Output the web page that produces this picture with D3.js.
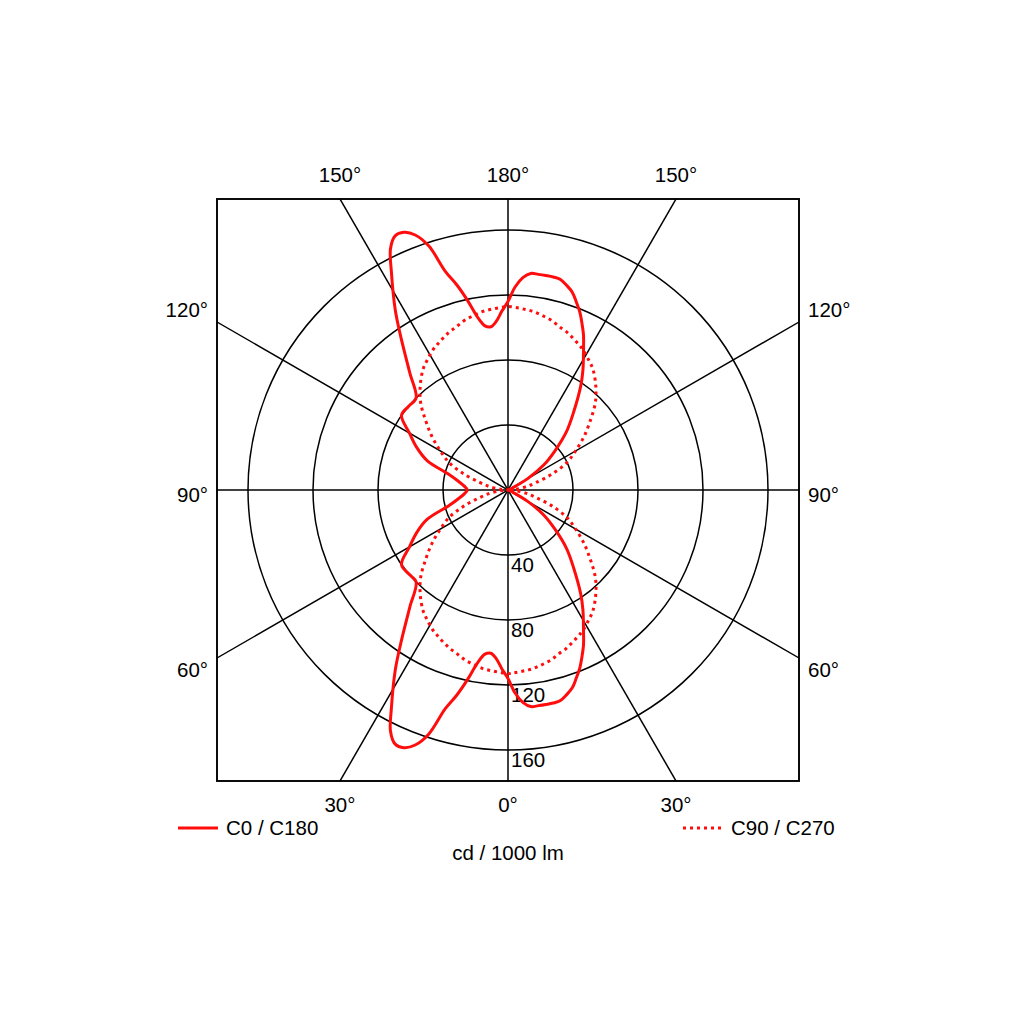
<!DOCTYPE html>
<html>
<head>
<meta charset="utf-8">
<script src="https://cdn.jsdelivr.net/npm/d3@7"></script>
<style>
  html, body { margin: 0; padding: 0; background: #fff; }
  svg { display: block; }
  text { font-family: "Liberation Sans", Arial, sans-serif; fill: #000; }
</style>
</head>
<body>
<svg id="chart" width="1024" height="1024"></svg>
<script>
// ---- Data (gamma angles in degrees, 0 = downward, 180 = upward) ----
const gammaAngles = [0, 2, 4, 6, 8, 10, 12, 14, 16, 18, 20, 22, 24, 26, 28, 32, 35, 40, 45, 50, 55, 60, 65, 70, 75, 80, 85, 90,
  95, 100, 105, 110, 115, 120, 125, 130, 135, 140, 145, 148, 152, 154, 156, 158, 160, 162, 164, 166, 168, 170, 172, 174, 176, 178, 180];

// C0 plane (right half), cd/1000 lm
const c0Values = [116, 125, 131, 134, 134, 134, 134, 133.5, 131, 128, 123, 118, 112, 106, 99, 87, 78, 63, 51, 38, 27, 14, 3, 1, 0, 0, 0, 0,
  0, 0, 0, 1, 3, 14, 27, 38, 51, 63, 78, 87, 99, 106, 112, 118, 123, 128, 131, 133.5, 134, 134, 134, 134, 131, 125, 116];

// C180 plane (left half), cd/1000 lm
const c180Values = [116, 110, 104, 101, 102, 108, 119, 130, 140, 158, 167, 171, 171, 165, 153, 131, 115, 94, 80, 80, 80, 70, 62, 53, 38, 31, 27, 25,
  27, 31, 38, 53, 62, 70, 80, 80, 80, 94, 115, 131, 153, 165, 171, 171, 167, 158, 140, 130, 119, 108, 102, 101, 104, 110, 116];

// C90 / C270 planes (both halves), cd/1000 lm
const c90c270Values = [113, 112.5, 112, 111.5, 111, 110, 109, 108, 106.5, 105, 104, 102.5, 101, 99.5, 98, 94, 91, 84, 76, 66, 57, 48, 40, 29, 18, 11, 4, 0,
  4, 11, 18, 29, 40, 48, 57, 66, 76, 84, 91, 94, 98, 99.5, 101, 102.5, 104, 105, 106.5, 108, 109, 110, 111, 111.5, 112, 112.5, 113];

const ringValues = [40, 80, 120, 160];
const spokeAngles = [0, 30, 60, 90, 120, 150];
const topLabels = ["150°", "180°", "150°"];
const bottomLabels = ["30°", "0°", "30°"];
const sideLabels = ["120°", "90°", "60°"];
const legendLabels = ["C0 / C180", "C90 / C270"];
const unitLabel = "cd / 1000 lm";

// ---- Layout ----
const svg = d3.select("#chart");
const cx = 508, cy = 490, half = 291;
const red = "#ff0d0d";
const r = d3.scaleLinear().domain([0, 160]).range([0, 260]);
const rad = d => d * Math.PI / 180;

const g = svg.append("g").attr("transform", `translate(${cx},${cy})`);

svg.append("defs").append("clipPath").attr("id", "box")
  .append("rect").attr("x", -half).attr("y", -half).attr("width", 2 * half).attr("height", 2 * half);

const grid = g.append("g").attr("clip-path", "url(#box)");

// rings
grid.selectAll("circle.ring").data(ringValues).join("circle")
  .attr("class", "ring").attr("r", d => r(d))
  .attr("fill", "none").attr("stroke", "#000").attr("stroke-width", 1.5);

// spokes (full diameters through centre)
grid.selectAll("line.spoke").data(spokeAngles).join("line")
  .attr("class", "spoke")
  .attr("x1", d => -600 * Math.sin(rad(d))).attr("y1", d => -600 * Math.cos(rad(d)))
  .attr("x2", d => 600 * Math.sin(rad(d))).attr("y2", d => 600 * Math.cos(rad(d)))
  .attr("stroke", "#000").attr("stroke-width", 1.5);

// box
g.append("rect").attr("x", -half).attr("y", -half).attr("width", 2 * half).attr("height", 2 * half)
  .attr("fill", "none").attr("stroke", "#000").attr("stroke-width", 1.9);

const fs = 20.5;

// ring labels
g.selectAll("text.rl").data(ringValues).join("text")
  .attr("class", "rl").attr("x", 3).attr("y", d => r(d) + 17)
  .attr("font-size", fs).text(d => d);

// ---- Curves ----
// lineRadial angle: clockwise from up. Right half: a = PI - gamma ; left half: a = PI + gamma
function loopPoints(rightVals, leftVals) {
  const pts = [];
  gammaAngles.forEach((gm, i) => pts.push([Math.PI - rad(gm), r(rightVals[i])]));
  for (let i = gammaAngles.length - 2; i >= 1; i--) pts.push([Math.PI + rad(gammaAngles[i]), r(leftVals[i])]);
  return pts;
}
const radial = d3.lineRadial().angle(d => d[0]).radius(d => d[1]).curve(d3.curveCatmullRomClosed.alpha(0.5));

g.append("path").attr("d", radial(loopPoints(c90c270Values, c90c270Values)))
  .attr("fill", "none").attr("stroke", red).attr("stroke-width", 3).attr("stroke-dasharray", "3,4");

g.append("path").attr("d", radial(loopPoints(c0Values, c180Values)))
  .attr("fill", "none").attr("stroke", red).attr("stroke-width", 3).attr("stroke-linejoin", "round");

// ---- Angle labels ----
const off = half * Math.tan(rad(30));
svg.selectAll("text.top").data(topLabels).join("text")
  .attr("class", "top").attr("x", (d, i) => cx + (i - 1) * off).attr("y", cy - half - 17)
  .attr("text-anchor", "middle").attr("font-size", fs).text(d => d);
svg.selectAll("text.bot").data(bottomLabels).join("text")
  .attr("class", "bot").attr("x", (d, i) => cx + (i - 1) * off).attr("y", cy + half + 31)
  .attr("text-anchor", "middle").attr("font-size", fs).text(d => d);
const sideY = [cy - 173, cy + 12, cy + 187];
svg.selectAll("text.sl").data(sideLabels).join("text")
  .attr("class", "sl").attr("x", cx - half - 9).attr("y", (d, i) => sideY[i])
  .attr("text-anchor", "end").attr("font-size", fs).text(d => d);
svg.selectAll("text.sr").data(sideLabels).join("text")
  .attr("class", "sr").attr("x", cx + half + 9).attr("y", (d, i) => sideY[i])
  .attr("text-anchor", "start").attr("font-size", fs).text(d => d);

// ---- Legend ----
const ly = 828;
svg.append("line").attr("x1", 178).attr("x2", 218).attr("y1", ly).attr("y2", ly)
  .attr("stroke", red).attr("stroke-width", 3);
svg.append("text").attr("x", 226).attr("y", ly + 7).attr("font-size", fs).text(legendLabels[0]);
svg.append("line").attr("x1", 683).attr("x2", 722).attr("y1", ly).attr("y2", ly)
  .attr("stroke", red).attr("stroke-width", 3).attr("stroke-dasharray", "3,4");
svg.append("text").attr("x", 731).attr("y", ly + 7).attr("font-size", fs).text(legendLabels[1]);
svg.append("text").attr("x", cx).attr("y", 860).attr("text-anchor", "middle").attr("font-size", fs).text(unitLabel);
</script>
</body>
</html>
